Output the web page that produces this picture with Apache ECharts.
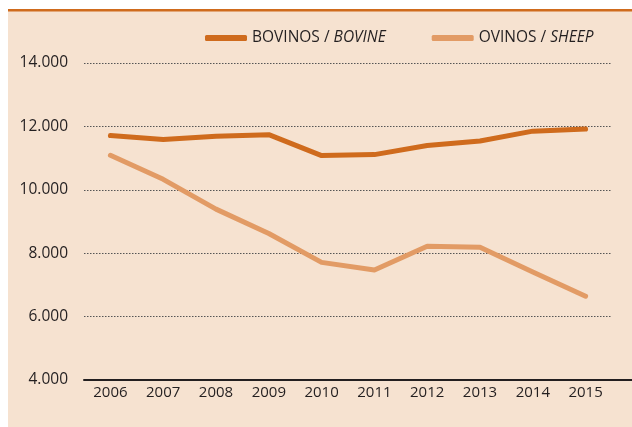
<!DOCTYPE html>
<html><head><meta charset="utf-8">
<script src="https://cdn.jsdelivr.net/npm/echarts@6/dist/echarts.min.js"></script>
<style>html,body{margin:0;padding:0;background:#fff}#c{width:632px;height:427px}</style>
</head><body><div id="c"></div>
<script>
const years = ['2006','2007','2008','2009','2010','2011','2012','2013','2014','2015'];
const bovine = [11710, 11590, 11690, 11740, 11080, 11110, 11400, 11540, 11850, 11915];
const sheep = [11090, 10330, 9390, 8620, 7710, 7470, 8220, 8190, 7410, 6645];
const yTicks = [4000, 6000, 8000, 10000, 12000, 14000];

const chart = echarts.init(document.getElementById('c'));
const font = '"Open Sans", sans-serif';
const fmt = v => {
  const s = String(v);
  return s.length > 3 ? s.slice(0, s.length - 3) + '.' + s.slice(-3) : s;
};
chart.setOption({
  backgroundColor: '#F6E2D0',
  animation: false,
  graphic: [
    { type: 'rect', shape: { x: 0, y: 0, width: 632, height: 9 }, style: { fill: '#fff' }, z: -1 },
    { type: 'rect', shape: { x: 0, y: 0, width: 8, height: 427 }, style: { fill: '#fff' }, z: -1 },
    { type: 'rect', shape: { x: 8, y: 9, width: 624, height: 2.5 }, style: { fill: '#CF6B1D' } },
    { type: 'line', shape: { x1: 612, y1: 380, x2: 632, y2: 380 }, style: { stroke: '#231F20', lineWidth: 2 } }
  ],
  legend: {
    top: 25, left: 200, itemGap: 46,
    itemWidth: 42, itemHeight: 6, icon: 'roundRect',
    data: ['BOVINOS', 'OVINOS'],
    formatter: n => n === 'BOVINOS' ? '{a|BOVINOS / }{b|BOVINE}' : '{a|OVINOS / }{b|SHEEP}',
    textStyle: {
      fontFamily: font, fontSize: 15.5, color: '#231F20',
      rich: {
        a: { fontFamily: font, fontSize: 15.5, color: '#231F20' },
        b: { fontFamily: font, fontSize: 15.5, color: '#231F20', fontStyle: 'italic' }
      }
    }
  },
  grid: { left: 84, right: 20, top: 63, bottom: 47 },
  xAxis: {
    type: 'category', data: years, boundaryGap: true,
    axisLine: { lineStyle: { color: '#231F20', width: 2 } },
    axisTick: { show: false },
    axisLabel: { color: '#231F20', fontFamily: font, fontSize: 15, margin: 5 }
  },
  yAxis: {
    type: 'value', min: 4000, max: 14000, interval: 2000,
    axisLine: { show: false }, axisTick: { show: false },
    axisLabel: { color: '#231F20', fontFamily: font, fontSize: 15.5, margin: 16, formatter: fmt },
    splitLine: { lineStyle: { color: '#555', type: [1.5, 1.5], width: 1 } }
  },
  series: [
    { name: 'BOVINOS', type: 'line', data: bovine, symbol: 'none', color: '#CF6B1D',
      lineStyle: { width: 5, cap: 'round', join: 'round' } },
    { name: 'OVINOS', type: 'line', data: sheep, symbol: 'none', color: '#E29B65',
      lineStyle: { width: 5, cap: 'round', join: 'round' } }
  ]
});
</script></body></html>
